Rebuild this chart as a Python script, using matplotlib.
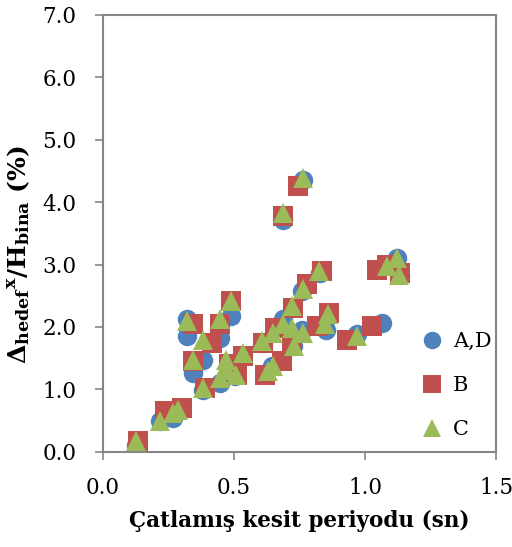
import matplotlib
matplotlib.use('Agg')
import matplotlib.pyplot as plt

# A,D serisi
ad_x = [0.125, 0.218, 0.268, 0.32, 0.32, 0.345, 0.383, 0.383, 0.447, 0.447, 0.49, 0.504,
        0.53, 0.61, 0.644, 0.686, 0.688, 0.726, 0.76, 0.762, 0.76, 0.83, 0.86, 0.85,
        0.968, 1.064, 1.12, 1.134]
ad_y = [0.11, 0.50, 0.54, 2.12, 1.86, 1.26, 1.47, 0.99, 1.10, 1.82, 2.18, 1.21,
        1.55, 1.75, 1.37, 3.72, 2.12, 1.69, 2.57, 4.36, 1.95, 2.86, 2.17, 1.95,
        1.88, 2.06, 3.10, 2.84]

# B serisi
b_x = [0.135, 0.237, 0.30, 0.345, 0.345, 0.415, 0.447, 0.39, 0.49, 0.51, 0.48, 0.536,
       0.61, 0.656, 0.618, 0.682, 0.688, 0.745, 0.724, 0.777, 0.835, 0.72, 0.815,
       0.864, 0.93, 1.025, 1.045, 1.083, 1.134]
b_y = [0.17, 0.65, 0.70, 2.04, 1.45, 1.74, 2.04, 1.02, 2.41, 1.23, 1.40, 1.53,
       1.74, 1.98, 1.23, 1.45, 3.77, 4.25, 2.30, 2.68, 2.89, 1.75, 2.01,
       2.22, 1.79, 2.01, 2.92, 3.00, 2.86]

# C serisi
c_x = [0.126, 0.218, 0.268, 0.287, 0.322, 0.345, 0.383, 0.383, 0.447, 0.447, 0.47, 0.472,
       0.49, 0.507, 0.536, 0.605, 0.65, 0.63, 0.65, 0.686, 0.688, 0.72, 0.72, 0.73,
       0.762, 0.765, 0.762, 0.826, 0.847, 0.86, 0.968, 1.083, 1.12, 1.13]
c_y = [0.17, 0.49, 0.62, 0.67, 2.10, 1.47, 1.79, 1.02, 2.12, 1.18, 1.47, 1.31,
       2.41, 1.23, 1.58, 1.77, 1.90, 1.29, 1.37, 3.82, 2.04, 2.33, 1.98, 1.69,
       2.60, 1.90, 4.39, 2.89, 2.04, 2.20, 1.85, 2.97, 3.10, 2.84]

x_ticks = [0.0, 0.5, 1.0, 1.5]
y_ticks = [0, 1, 2, 3, 4, 5, 6, 7]

plt.rcParams['font.family'] = 'DejaVu Serif'
plt.rcParams['mathtext.fontset'] = 'dejavuserif'

fig = plt.figure(figsize=(5.12, 5.47), dpi=100)
ax = fig.add_axes([0.201, 0.174, 0.768, 0.799])

ms = 14
ax.plot(ad_x, ad_y, 'o', color='#4F81BD', markersize=ms, markeredgewidth=0, label='A,D')
ax.plot(b_x, b_y, 's', color='#C0504D', markersize=ms, markeredgewidth=0, label='B')
ax.plot(c_x, c_y, '^', color='#9BBB59', markersize=ms, markeredgewidth=0, label='C')

ax.set_xlim(0, 1.5)
ax.set_ylim(0, 7)
ax.set_xticks(x_ticks)
ax.set_yticks(y_ticks)
ax.set_xticklabels(['%.1f' % v for v in x_ticks])
ax.set_yticklabels(['%.1f' % v for v in y_ticks])

for s in ax.spines.values():
    s.set_color('#868686')
    s.set_linewidth(1.5)
ax.tick_params(axis='both', direction='out', length=6, width=1.2, color='#868686',
               labelsize=15.5)
ax.tick_params(axis='x', pad=12)
ax.tick_params(axis='y', pad=13)

ax.set_xlabel('Çatlamış kesit periyodu (sn)', fontsize=15.5, fontweight='bold', labelpad=8)
ax.set_ylabel(r'$\mathbf{{\Delta_{hedef}}^{x}/H_{bina}}$ (%)', fontsize=18,
              fontweight='bold')
ax.yaxis.set_label_coords(-0.18, 0.45)

leg = ax.legend(loc='lower right', frameon=False, fontsize=15, handletextpad=0.0,
                labelspacing=1.2, markerscale=0.9, borderaxespad=0.2,
                bbox_to_anchor=(1.02, 0.0))

fig.savefig('out.png', dpi=100)
